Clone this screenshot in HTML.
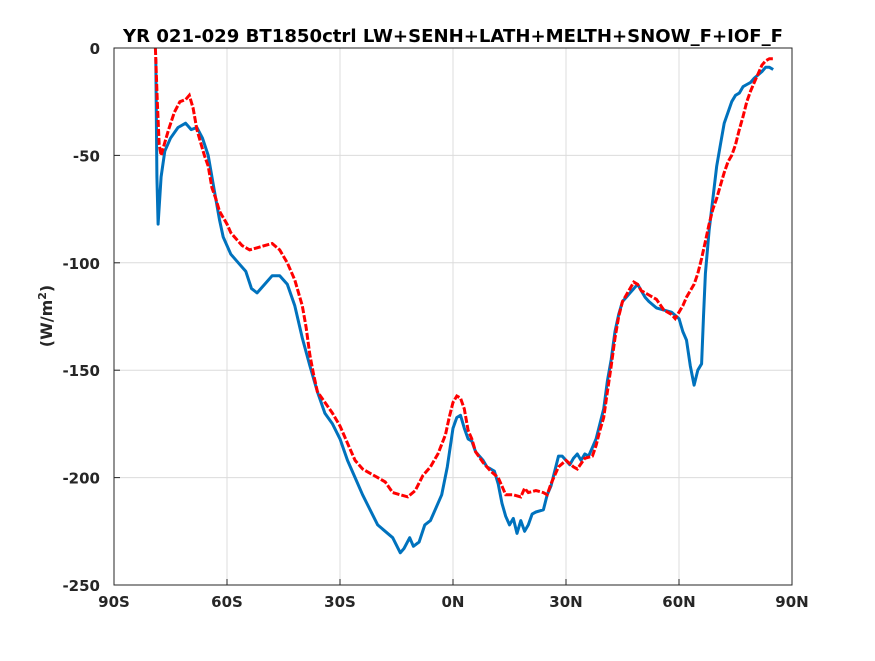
<!DOCTYPE html>
<html><head><meta charset="utf-8"><style>
body{margin:0;background:#fff;}
svg text{font-family:"DejaVu Sans","Liberation Sans",sans-serif;font-weight:bold;fill:#262626;}
</style></head><body>
<svg id="chart" width="875" height="656" viewBox="0 0 875 656" xmlns="http://www.w3.org/2000/svg">
<rect x="0" y="0" width="875" height="656" fill="#fff"/>
<text x="453" y="42" font-size="17.5" text-anchor="middle" textLength="660" lengthAdjust="spacingAndGlyphs" style="fill:#000">YR 021-029 BT1850ctrl LW+SENH+LATH+MELTH+SNOW_F+IOF_F</text>
<g id="grid"></g>
<g id="series"></g>
<rect x="114" y="48" width="678" height="537" fill="none" stroke="#262626" stroke-width="1"/>
<g id="ticks"></g>
<text transform="translate(52,316) rotate(-90)" font-size="16" text-anchor="middle">(W/m<tspan dy="-6" font-size="11">2</tspan><tspan dy="6">)</tspan></text>
</svg>
<script>
const xTicks=[-90,-60,-30,0,30,60,90];
const xTickLabels=["90S","60S","30S","0N","30N","60N","90N"];
const yTicks=[0,-50,-100,-150,-200,-250];
const blueLat=[-78.9,-78.6,-78.3,-77.5,-76.5,-75,-73,-71,-69.5,-68,-66.5,-65,-63.5,-62,-61,-59,-57,-55,-53.5,-52,-50,-48,-46,-44,-42,-40,-38,-36,-34,-32,-30,-28,-26,-24,-22,-20,-18,-16,-14,-13,-11.5,-10.5,-9,-7.5,-6,-5,-3,-1.5,0,1,2,3,4,5,6,7,8,9,10,11,12,13,14,15,16,17,18,19,20,21,22,24,25,26,27,28,29,30,31,32,33,34,35,36,37,38,39,40,41,42,43,44,45,46,47,48,49,50,51,52,54,56,58,60,61,62,63,64,65,66,66.5,67,68,69,70,71,72,73,74,75,76,77,78,79,80,82,83,84,85];
const blueVal=[-5,-60,-82,-60,-48,-42,-37,-35,-38,-37,-42,-50,-65,-80,-88,-96,-100,-104,-112,-114,-110,-106,-106,-110,-120,-135,-148,-160,-170,-175,-182,-192,-200,-208,-215,-222,-225,-228,-235,-233,-228,-232,-230,-222,-220,-216,-208,-195,-177,-172,-171,-177,-182,-183,-188,-190,-192,-195,-196,-197,-203,-212,-218,-222,-219,-226,-220,-225,-222,-217,-216,-215,-208,-204,-197,-190,-190,-192,-194,-191,-189,-192,-189,-190,-186,-182,-175,-168,-155,-145,-132,-124,-118,-116,-114,-112,-110,-113,-116,-118,-121,-122,-123,-126,-132,-136,-148,-157,-150,-147,-125,-105,-85,-70,-55,-45,-35,-30,-25,-22,-21,-18,-17,-16,-14,-11,-9,-9,-10];
const redLat=[-79,-78.5,-78,-77.5,-76.5,-75.5,-74,-72.5,-71,-70,-69,-68,-67,-66,-65,-64,-63,-62,-60,-59,-58,-56,-54,-52,-50,-48,-46,-44,-42,-40,-39,-38,-37,-36,-34,-32,-30,-28,-26,-24,-22,-20,-18,-16,-14,-12,-10,-8,-6,-4,-2,-1,0,1,2,3,4,5,6,8,10,12,13,14,16,18,19,20,22,24,25,26,28,30,32,33,35,37,38,39,40,41,42,43,44,45,46,47,48,49,50,52,54,56,58,59,60,61,62,63,64,65,66,67,68,69,70,71,72,73,74,75,76,77,78,79,80,81,82,83,84,85];
const redVal=[0,-25,-45,-50,-44,-38,-30,-25,-24,-22,-28,-38,-44,-50,-55,-65,-70,-76,-82,-86,-88,-92,-94,-93,-92,-91,-94,-100,-108,-120,-130,-143,-152,-160,-165,-170,-176,-184,-192,-196,-198,-200,-202,-207,-208,-209,-206,-199,-195,-189,-180,-172,-165,-162,-163,-168,-178,-182,-188,-193,-197,-200,-204,-208,-208,-209,-205,-207,-206,-207,-208,-203,-195,-192,-195,-196,-191,-190,-185,-178,-172,-160,-148,-135,-125,-118,-115,-112,-109,-110,-113,-115,-117,-122,-124,-126,-123,-120,-116,-113,-110,-105,-98,-90,-82,-75,-70,-64,-58,-53,-50,-45,-38,-32,-25,-20,-16,-12,-8,-6,-5,-5];

const X0=114,X1=792,Y0=48,Y1=585;
function xs(v){return X0+(v+90)/180*(X1-X0);}
function ys(v){return Y0+(0-v)/250*(Y1-Y0);}
const NS="http://www.w3.org/2000/svg";
function mk(tag,attrs,parent){const e=document.createElementNS(NS,tag);for(const k in attrs)e.setAttribute(k,attrs[k]);parent.appendChild(e);return e;}
const grid=document.getElementById('grid'),ticks=document.getElementById('ticks'),series=document.getElementById('series');
xTicks.forEach((t,i)=>{
  const x=xs(t);
  const g=mk('line',{x1:x,x2:x,y1:Y0,y2:Y1,stroke:'#dcdcdc','stroke-width':1},grid);
  
  
  const tk=mk('line',{x1:x,x2:x,y1:Y1,y2:Y1-6,stroke:'#262626'},ticks);
  
  
  const tl=mk('text',{x:x,y:Y1+22,'font-size':15,'text-anchor':'middle'},ticks);
  tl.textContent=xTickLabels[i];
  
  
});
yTicks.forEach(t=>{
  const y=ys(t);
  const g=mk('line',{x1:X0,x2:X1,y1:y,y2:y,stroke:'#dcdcdc','stroke-width':1},grid);
  
  
  const tk=mk('line',{x1:X0,x2:X0+6,y1:y,y2:y,stroke:'#262626'},ticks);
  
  
  const tl=mk('text',{x:X0-14,y:y+6,'font-size':15,'text-anchor':'end'},ticks);
  tl.textContent=String(t);
  
  
});
function path(lat,val){return lat.map((l,i)=>(i?'L':'M')+xs(l).toFixed(1)+','+ys(val[i]).toFixed(1)).join('');}
const b=mk('path',{d:path(blueLat,blueVal),fill:'none',stroke:'#0072bd','stroke-width':3,'stroke-linejoin':'round'},series);


const r=mk('path',{d:path(redLat,redVal),fill:'none',stroke:'#ff0000','stroke-width':3,'stroke-dasharray':'7,2'},series);


</script>
</body></html>
